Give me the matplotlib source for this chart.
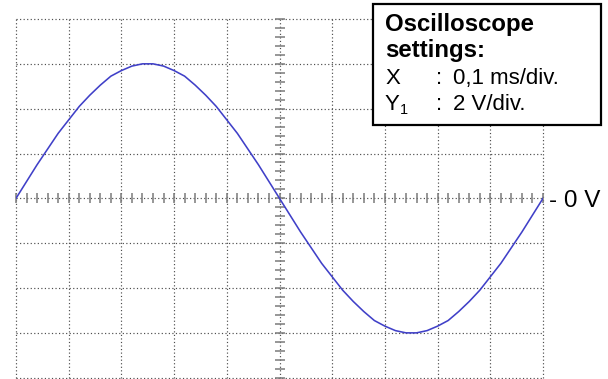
import numpy as np
import matplotlib
matplotlib.use("Agg")
import matplotlib.pyplot as plt
from matplotlib.patches import Rectangle

# ---- data (time in ms, voltage in V) ----
time_ms = [0.00, 0.02, 0.04, 0.06, 0.08, 0.10, 0.12, 0.14, 0.16, 0.18,
           0.20, 0.22, 0.24, 0.26, 0.28, 0.30, 0.32, 0.34, 0.36, 0.38,
           0.40, 0.42, 0.44, 0.46, 0.48, 0.50, 0.52, 0.54, 0.56, 0.58,
           0.60, 0.62, 0.64, 0.66, 0.68, 0.70, 0.72, 0.74, 0.76, 0.78,
           0.80, 0.82, 0.84, 0.86, 0.88, 0.90, 0.92, 0.94, 0.96, 0.98, 1.00]
voltage_v = [0.0, 0.75, 1.5, 2.2, 2.9, 3.5, 4.1, 4.6, 5.05, 5.45,
             5.7, 5.9, 6.0, 6.0, 5.9, 5.7, 5.45, 5.05, 4.6, 4.1,
             3.5, 2.9, 2.2, 1.5, 0.75, 0.0, -0.75, -1.5, -2.2, -2.9,
             -3.5, -4.1, -4.6, -5.05, -5.45, -5.7, -5.9, -6.0, -6.0, -5.9,
             -5.7, -5.45, -5.05, -4.6, -4.1, -3.5, -2.9, -2.2, -1.5, -0.75, 0.0]

x_div = 0.1   # ms per division
y_div = 2.0   # V per division
n_xdiv = 10
n_ydiv = 8
settings_title = ["Oscilloscope", "settings:"]
zero_label = "- 0 V"

W, H = 608, 379
fig = plt.figure(figsize=(W / 100, H / 100), dpi=100)
fig.patch.set_facecolor("white")
left, right, top, bottom = 16, 543, 19, 377.7
ax = fig.add_axes([left / W, (H - bottom) / H, (right - left) / W, (bottom - top) / H])
ax.set_xlim(0, n_xdiv * x_div)
ax.set_ylim(-n_ydiv / 2 * y_div, n_ydiv / 2 * y_div)
ax.axis("off")

grid_kw = dict(color="#4d4d4d", lw=0.85, ls=(0, (1, 2.0)), zorder=1, clip_on=False)
for i in range(n_xdiv + 1):
    ax.axvline(i * x_div, **grid_kw)
for j in range(n_ydiv + 1):
    ax.axhline(-n_ydiv / 2 * y_div + j * y_div, **grid_kw)

# minor tick marks on the centre axes
xt = np.arange(0, n_xdiv * 5 + 1) * x_div / 5
yt = (np.arange(0, n_ydiv * 5 + 1) - n_ydiv * 5 / 2) * y_div / 5
ax.plot(xt, np.zeros_like(xt), ls="none", marker="|", ms=7, mew=1.1,
        color="#7a7a7a", zorder=2, clip_on=False)
ax.plot(np.full_like(yt, n_xdiv / 2 * x_div), yt, ls="none", marker="_", ms=7,
        mew=1.1, color="#7a7a7a", zorder=2, clip_on=False)

ax.plot(time_ms, voltage_v, color="#4040c8", lw=1.15, zorder=3)

# settings box
fig.add_artist(Rectangle((373 / W, (H - 125) / H), (601 - 373) / W, (125 - 4) / H,
                         transform=fig.transFigure, facecolor="white",
                         edgecolor="black", lw=1.6, zorder=10))
fam = ["Liberation Sans", "DejaVu Sans"]
fs = 16
fsb = 17.3
def ftext(px, py, s, **kw):
    fig.text(px / W, (H - py) / H, s, family=fam, va="baseline", ha="left",
             zorder=11, **kw)

ftext(385, 31, settings_title[0], fontsize=fsb, fontweight="bold")
ftext(385, 57.5, settings_title[1], fontsize=fsb, fontweight="bold")
ftext(385, 84, "X", fontsize=fs)
ftext(436, 84, ":", fontsize=fs)
ftext(453, 84, "0,1 ms/div.", fontsize=fs)
ftext(385, 110.5, "Y", fontsize=fs)
ftext(400, 114.5, "1", fontsize=fs * 0.65)
ftext(436, 110.5, ":", fontsize=fs)
ftext(453, 110.5, "2 V/div.", fontsize=fs)

ftext(549, 207, zero_label, fontsize=17.5)

fig.savefig("out.png", dpi=100, facecolor="white")
